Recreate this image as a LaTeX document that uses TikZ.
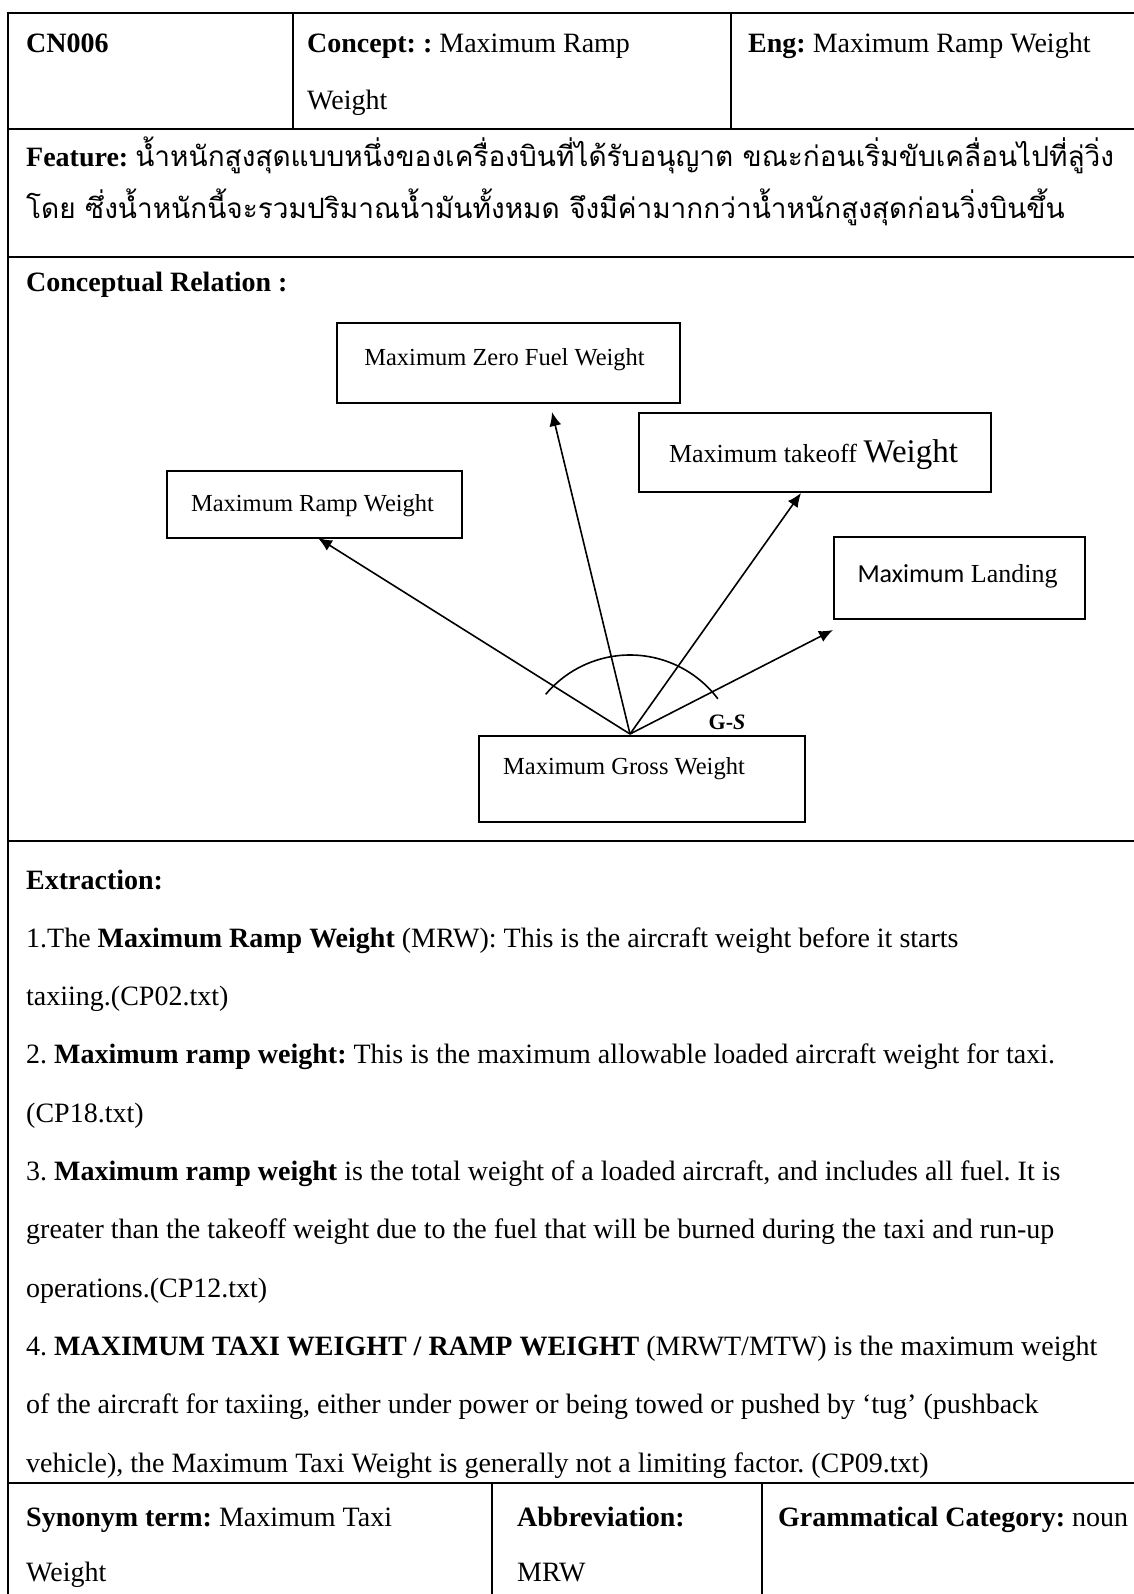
\documentclass[tikz,border=0pt]{standalone}
\usepackage{fontspec}
\setmainfont{Liberation Serif}
\newfontfamily\thaifont[Script=Thai]{Loma}
\newfontfamily\calibfont{Carlito}
\usetikzlibrary{arrows.meta}
\frenchspacing

\begin{document}
\begin{tikzpicture}[x=1pt,y=-1pt,
  rule/.style={line width=2.2pt},
  txt/.style={anchor=base west,inner sep=0pt,font=\fontsize{28}{32}\selectfont},
  cbox/.style={draw,line width=1.8pt,inner sep=0pt},
  clabel/.style={inner sep=0pt,font=\fontsize{24.5}{28}\selectfont},
  rel/.style={line width=1.6pt,-{Latex[length=14pt,width=12pt]}}
]
\useasboundingbox (0,0) rectangle (1133,1594);

% ---- table rules ----
\draw[rule] (8,12.7) -- (1140,12.7);
\draw[rule] (8,129) -- (1140,129);
\draw[rule] (8,257) -- (1140,257);
\draw[rule] (8,841) -- (1140,841);
\draw[rule] (8,1483) -- (1140,1483);
\draw[rule] (8,11.6) -- (8,1600);
\draw[rule] (293,12.7) -- (293,129);
\draw[rule] (731,12.7) -- (731,129);
\draw[rule] (492,1483) -- (492,1600);
\draw[rule] (762,1483) -- (762,1600);

% ---- header row ----
\node[txt] (id) at (26,53) {\textbf{CN006}};
\node[txt] (concept1) at (307,53) {\textbf{Concept: :} Maximum Ramp};
\node[txt] (concept2) at (307,110) {Weight};
\node[txt] (eng) at (748,53) {\textbf{Eng:} Maximum Ramp Weight};

% ---- feature ----
\node[txt] (feat1) at (26,167) {\textbf{Feature:} {\thaifont น้ำหนักสูงสุดแบบหนึ่งของเครื่องบินที่ได้รับอนุญาต ขณะก่อนเริ่มขับเคลื่อนไปที่ลู่วิ่ง}};
\node[txt] (feat2) at (26,219) {\thaifont โดย ซึ่งน้ำหนักนี้จะรวมปริมาณน้ำมันทั้งหมด จึงมีค่ามากกว่าน้ำหนักสูงสุดก่อนวิ่งบินขึ้น};

% ---- conceptual relation ----
\node[txt] (crel) at (26,292) {\textbf{Conceptual Relation :}};

\node[cbox,minimum width=343pt,minimum height=80pt] (mzfw) at (508.5,363) {};
\node[clabel] (mzfw-t) at (504.5,360) {Maximum Zero Fuel Weight};
\node[cbox,minimum width=295pt,minimum height=67pt] (mrw) at (314.5,504.5) {};
\node[clabel] (mrw-t) at (312.5,506) {Maximum Ramp Weight};
\node[cbox,minimum width=352pt,minimum height=79pt] (mtow) at (815,452.5) {};
\node[clabel,font=\fontsize{26}{30}\selectfont] (mtow-t) at (813.5,455) {Maximum takeoff {\fontsize{33}{36}\selectfont Weight}};
\node[cbox,minimum width=251pt,minimum height=82pt] (mlw) at (959.5,578) {};
\node[clabel,font=\fontsize{26}{30}\selectfont] (mlw-t) at (957.5,576) {{\calibfont Maximum} Landing};
\node[cbox,minimum width=326pt,minimum height=86pt] (mgw) at (642,779) {};
\node[clabel] (mgw-t) at (624,769) {Maximum Gross Weight};
\node[inner sep=0pt,font=\fontsize{22}{24}\selectfont\bfseries] (gs) at (727,722) {G-\textit{S}};

\coordinate (o) at (630,734);
\coordinate (t-mrw) at (318,538);
\coordinate (t-mzfw) at (552,412);
\coordinate (t-mtow) at (801,493);
\coordinate (t-mlw) at (833,630);
\draw[rel] (o) -- (t-mrw);
\draw[rel] (o) -- (t-mzfw);
\draw[rel] (o) -- (t-mtow);
\draw[rel] (o) -- (t-mlw);
\coordinate (gc) at (630,765);
\draw[line width=1.6pt] ([shift={(37:110pt)}]gc) arc[start angle=37,end angle=140,radius=110pt];

% ---- extraction ----
\node[txt] (ex0) at (26,889) {\textbf{Extraction:}};
\node[txt] (ex1) at (26,947.3) {1.The \textbf{Maximum Ramp Weight} (MRW): This is the aircraft weight before it starts};
\node[txt] (ex2) at (26,1005.6) {taxiing.(CP02.txt)};
\node[txt] (ex3) at (26,1063.9) {2. \textbf{Maximum ramp weight:} This is the maximum allowable loaded aircraft weight for taxi.};
\node[txt] (ex4) at (26,1122.2) {(CP18.txt)};
\node[txt] (ex5) at (26,1180.5) {3. \textbf{Maximum ramp weight} is the total weight of a loaded aircraft, and includes all fuel. It is};
\node[txt] (ex6) at (26,1238.8) {greater than the takeoff weight due to the fuel that will be burned during the taxi and run-up};
\node[txt] (ex7) at (26,1297.1) {operations.(CP12.txt)};
\node[txt] (ex8) at (26,1355.4) {4. \textbf{MAXIMUM TAXI WEIGHT / RAMP WEIGHT} (MRWT/MTW) is the maximum weight};
\node[txt] (ex9) at (26,1413.7) {of the aircraft for taxiing, either under power or being towed or pushed by ‘tug’ (pushback};
\node[txt] (ex10) at (26,1472) {vehicle), the Maximum Taxi Weight is generally not a limiting factor. (CP09.txt)};

% ---- bottom row ----
\node[txt] (syn1) at (26,1526) {\textbf{Synonym term:} Maximum Taxi};
\node[txt] (syn2) at (26,1581) {Weight};
\node[txt] (abb1) at (517,1526) {\textbf{Abbreviation:}};
\node[txt] (abb2) at (517,1581) {MRW};
\node[txt] (gram) at (778,1526) {\textbf{Grammatical Category:} noun};
\end{tikzpicture}
\end{document}
